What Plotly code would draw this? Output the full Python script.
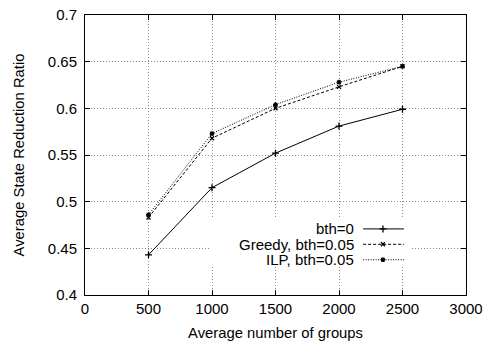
import plotly.graph_objects as go

groups = [500, 1000, 1500, 2000, 2500]
bth0 = [0.443, 0.515, 0.552, 0.581, 0.599]
greedy = [0.483, 0.568, 0.600, 0.623, 0.645]
ilp = [0.486, 0.573, 0.604, 0.628, 0.645]
series_names = ["bth=0", "Greedy, bth=0.05", "ILP, bth=0.05"]
x_ticks = [0, 500, 1000, 1500, 2000, 2500, 3000]
y_ticks = [0.4, 0.45, 0.5, 0.55, 0.6, 0.65, 0.7]

FONT = "Liberation Sans, Arial, Helvetica, sans-serif"
styles = [
    dict(dash="solid", symbol="cross-thin-open", size=5),
    dict(dash="3px,2px", symbol="x-thin-open", size=4),
    dict(dash="1px,1.5px", symbol="asterisk-open", size=4),
]
data = [bth0, greedy, ilp]

fig = go.Figure()
for name, ys, st in zip(series_names, data, styles):
    fig.add_trace(go.Scatter(
        x=groups, y=ys, mode="lines+markers", name=name,
        line=dict(color="black", width=1, dash=st["dash"]),
        marker=dict(symbol=st["symbol"], size=st["size"], color="black",
                    line=dict(color="black", width=1.3)),
        showlegend=False, hoverinfo="skip", cliponaxis=False,
    ))

# key box (opaque, no border) that clears the grid behind the key
kx0, kx1, ky0, ky1 = 0.331, 0.858, 0.0998, 0.2745
fig.add_trace(go.Scatter(
    x=[kx0, kx1, kx1, kx0, kx0], y=[ky0, ky0, ky1, ky1, ky0],
    xaxis="x2", yaxis="y2", mode="lines", fill="toself",
    fillcolor="white", line=dict(width=0, color="white"),
    showlegend=False, hoverinfo="skip",
))

# custom legend (text left of sample, gnuplot style) on an overlay axis in [0,1]
leg_rows = [0.236, 0.181, 0.126]
for name, yy, st in zip(series_names, leg_rows, styles):
    fig.add_trace(go.Scatter(
        x=[0.730, 0.837], y=[yy, yy], mode="lines", xaxis="x2", yaxis="y2",
        line=dict(color="black", width=1, dash=st["dash"]),
        showlegend=False, hoverinfo="skip",
    ))
    fig.add_trace(go.Scatter(
        x=[0.782], y=[yy], mode="markers", xaxis="x2", yaxis="y2",
        marker=dict(symbol=st["symbol"], size=st["size"], color="black",
                    line=dict(color="black", width=1.3)),
        showlegend=False, hoverinfo="skip",
    ))
    fig.add_annotation(x=0.709, y=yy, xref="x2", yref="y2", text=name,
                       showarrow=False, xanchor="right", yanchor="middle",
                       borderpad=0,
                       font=dict(family=FONT, size=15, color="black"))

axis_common = dict(
    showline=True, linecolor="black", linewidth=1, mirror="ticks",
    ticks="inside", ticklen=5, tickcolor="black", tickwidth=1,
    showgrid=True, gridcolor="#8a8a8a", griddash="1px,2px", gridwidth=1,
    zeroline=False, automargin=False,
    tickfont=dict(family=FONT, size=15, color="black"),
)

fig.update_layout(
    width=487, height=341,
    margin=dict(l=85, r=21, t=14.5, b=46),
    paper_bgcolor="white", plot_bgcolor="white",
    font=dict(family=FONT, size=15, color="black"),
    xaxis=dict(range=[0, 3000], tickvals=x_ticks, ticktext=[str(v) for v in x_ticks],
               title=dict(text="Average number of groups", standoff=13,
                          font=dict(family=FONT, size=14.8)),
               **axis_common),
    yaxis=dict(range=[0.4, 0.7], tickvals=y_ticks, ticktext=[f"{v:g}" for v in y_ticks],
               title=dict(text="Average State Reduction Ratio", standoff=19,
                          font=dict(family=FONT, size=14.8)),
               ticklabelstandoff=4,
               **axis_common),
    xaxis2=dict(overlaying="x", range=[0, 1], visible=False, fixedrange=True),
    yaxis2=dict(overlaying="y", range=[0, 1], visible=False, fixedrange=True),
    showlegend=False,
)

fig.write_html("out.html")
